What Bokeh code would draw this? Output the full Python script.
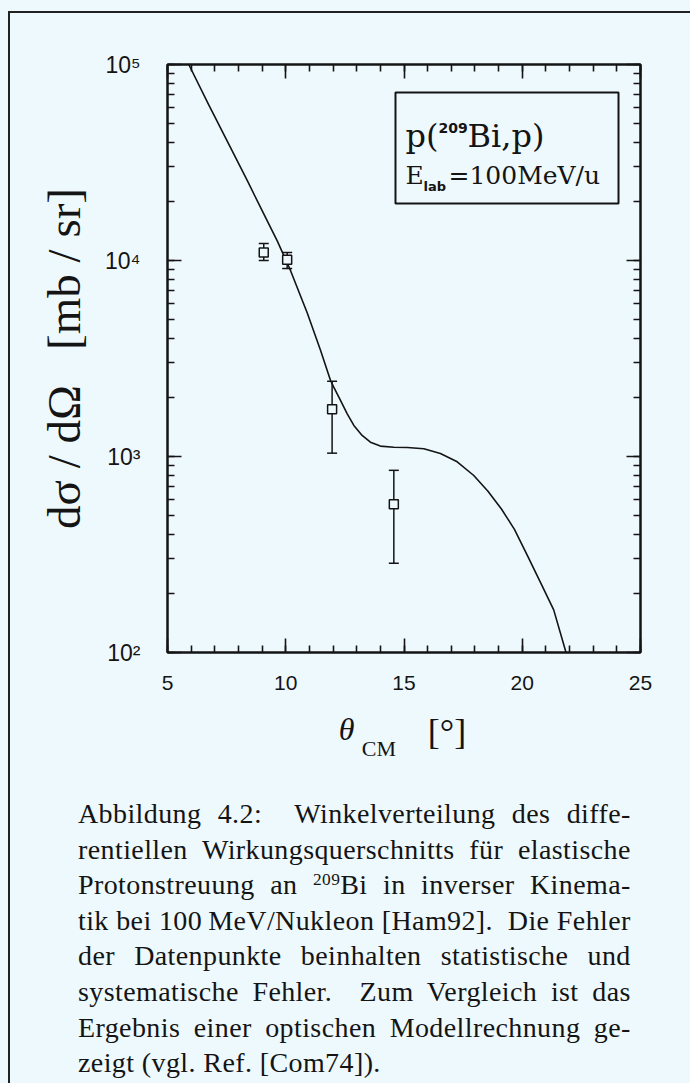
from bokeh.plotting import figure
from bokeh.models import (Label, BoxAnnotation, LinearAxis, LogAxis,
                          SingleIntervalTicker, LogTicker, FixedTicker, Div)
from bokeh.layouts import column
from bokeh.embed import file_html
from bokeh.resources import INLINE

BG = "#eef9fd"
INK = "#141414"

# ---------------- data ----------------
x_ticks = [5, 10, 15, 20, 25]
y_ticks = [1e2, 1e3, 1e4, 1e5]
y_tick_labels = ["10²", "10³", "10⁴", "10⁵"]

theta_data = [9.07, 10.06, 11.96, 14.57]
sigma_data = [11000, 10100, 1740, 570]
sigma_hi = [12200, 11000, 2420, 850]
sigma_lo = [10000, 9100, 1040, 285]

theta_model = [5.90, 6.75, 7.66, 8.37, 9.07, 9.64, 10.20, 10.91, 11.47, 11.89,
               12.03, 12.32, 12.60, 12.88, 13.23, 13.58, 14.00, 14.57, 15.14,
               15.84, 16.54, 17.25, 17.95, 18.55, 19.12, 19.67, 20.23, 20.79,
               21.33, 21.83, 21.95]
sigma_model = [100000, 62000, 37800, 25600, 17300, 12600, 8900, 5400, 3480, 2450,
               2260, 1930, 1650, 1440, 1280, 1183, 1130, 1115, 1112,
               1095, 1035, 940, 800, 665, 540, 425, 310, 225,
               165, 102, 95]

x_title_main = {12.57: "θ"}
x_title_unit = {16.82: "[°]"}
x_title_sub = {13.94: "CM"}
y_title = "dσ / dΩ\u2002 [mb / sr]"

caption_lines = [
    "Abbildung 4.2:&nbsp; Winkelverteilung des diffe-",
    "rentiellen Wirkungsquerschnitts für elastische",
    "Protonstreuung an <sup style='font-size:0.62em;vertical-align:0.5em;line-height:0'>209</sup>Bi in inverser Kinema-",
    "tik bei 100&thinsp;MeV/Nukleon [Ham92].&nbsp; Die Fehler",
    "der Datenpunkte beinhalten statistische und",
    "systematische Fehler.&nbsp; Zum Vergleich ist das",
    "Ergebnis einer optischen Modellrechnung ge-",
    "zeigt (vgl. Ref. [Com74]).",
]

X0, X1 = 5, 25
Y0, Y1 = 1e2, 1e5

p = figure(width=680, height=777, x_range=(X0, X1), y_range=(Y0, Y1),
           y_axis_type="log", output_backend="svg", toolbar_location=None,
           min_border_left=157, min_border_right=50, min_border_top=51,
           min_border_bottom=138)
p.background_fill_color = BG
p.border_fill_color = BG
p.outline_line_color = INK
p.outline_line_width = 2
p.grid.visible = False


def style_axis(ax):
    ax.axis_line_color = INK
    ax.axis_line_width = 2
    ax.major_tick_in = 14
    ax.major_tick_out = 0
    ax.minor_tick_in = 7
    ax.minor_tick_out = 0
    ax.major_tick_line_width = 1.6
    ax.minor_tick_line_width = 1.6
    ax.major_tick_line_color = INK
    ax.minor_tick_line_color = INK


# bottom x axis
xa = p.xaxis[0]
xa.ticker = SingleIntervalTicker(interval=5, num_minor_ticks=5)
style_axis(xa)
xa.major_label_text_font = "Liberation Sans"
xa.major_label_text_font_size = "21px"
xa.major_label_text_color = INK
xa.major_label_standoff = 23
xa.major_label_overrides = {t: str(t) for t in x_ticks}

# left y axis
ya = p.yaxis[0]
ya.ticker = LogTicker(num_minor_ticks=10)
style_axis(ya)
ya.major_label_text_font = "Liberation Sans"
ya.major_label_text_font_size = "23px"
ya.major_label_text_color = INK
ya.major_label_standoff = 27
ya.major_label_overrides = {v: t for v, t in zip(y_ticks, y_tick_labels)}
ya.axis_label = y_title
ya.axis_label_text_font = "Liberation Serif"
ya.axis_label_text_font_style = "normal"
ya.axis_label_text_font_size = "47px"
ya.axis_label_text_color = INK
ya.axis_label_standoff = 12

# mirrored axes
top = LinearAxis(ticker=SingleIntervalTicker(interval=5, num_minor_ticks=5))
style_axis(top)
top.major_label_text_font_size = "0px"
top.major_label_text_color = None
top.major_label_standoff = 0
p.add_layout(top, "above")

right = LogAxis(ticker=LogTicker(num_minor_ticks=10))
style_axis(right)
right.major_label_text_font_size = "0px"
right.major_label_text_color = None
right.major_label_standoff = 0
p.add_layout(right, "right")


def title_axis(parts, font_size, style, standoff):
    ax = LinearAxis(ticker=FixedTicker(ticks=list(parts.keys()), minor_ticks=[]),
                    major_label_overrides=dict(parts))
    ax.axis_line_color = None
    ax.major_tick_line_color = None
    ax.minor_tick_line_color = None
    ax.major_tick_in = 0
    ax.major_tick_out = 0
    ax.minor_tick_in = 0
    ax.minor_tick_out = 0
    ax.major_label_text_font = "Liberation Serif"
    ax.major_label_text_font_style = style
    ax.major_label_text_font_size = font_size
    ax.major_label_text_color = INK
    ax.major_label_standoff = standoff
    p.add_layout(ax, "below")


# x axis title: italic theta, upright [deg] on the same row, subscript CM below
title_axis(x_title_main, "32px", "italic", 18)
title_axis(x_title_unit, "36px", "normal", -38)
title_axis(x_title_sub, "22px", "normal", -19)

# model curve
p.line(theta_model, sigma_model, line_color=INK, line_width=1.6,
       line_join="round")

# data with error bars
p.segment(x0=theta_data, y0=sigma_lo, x1=theta_data, y1=sigma_hi,
          line_color=INK, line_width=1.5)
p.scatter(theta_data, sigma_hi, marker="dash", size=10, line_color=INK,
          line_width=1.5)
p.scatter(theta_data, sigma_lo, marker="dash", size=10, line_color=INK,
          line_width=1.5)
p.scatter(theta_data, sigma_data, marker="square", size=9, fill_color=BG,
          line_color=INK, line_width=1.5)

# legend box
BL, BR, BT, BB = 14.64, 24.07, 71900, 19540
p.add_layout(BoxAnnotation(left=BL, right=BR, top=BT, bottom=BB,
                           fill_color=None, fill_alpha=0,
                           line_color=INK, line_alpha=1, line_width=2))


def leg(text, dx, dy, font, size, style="normal"):
    p.add_layout(Label(x=BL, y=BT, text=text, x_offset=dx, y_offset=-dy,
                       text_align="left", text_baseline="alphabetic",
                       text_font=font, text_font_size=size,
                       text_font_style=style, text_color=INK))


leg("p(", 10, 43, "DejaVu Serif", "32px")
leg("209", 43, 35, "DejaVu Sans", "14px", "bold")
leg("Bi,p)", 72, 43, "DejaVu Serif", "32px")
leg("E", 10, 83, "DejaVu Serif", "25px")
leg("lab", 28, 94, "DejaVu Sans", "13px", "bold")
leg("=100MeV/u", 53, 83, "DejaVu Serif", "25px")

# caption
rows = []
for i, line in enumerate(caption_lines):
    last = i == len(caption_lines) - 1
    align = "left" if last else "justify"
    rows.append(
        f"<div style='height:35.6px;line-height:35.6px;text-align:{align};"
        f"text-align-last:{align};'>{line}</div>")
cap_html = ("<div style=\"padding:1px 44px 0 63px;font-family:'Liberation Serif';"
            f"font-size:28px;letter-spacing:0.4px;color:{INK};\">" + "".join(rows) + "</div>")
cap = Div(text=cap_html, width=680, height=293,
          styles={"background-color": BG})

layout = column(p, cap, margin=(11, 0, 0, 8),
                styles={"border-left": "2px solid #222",
                        "border-top": "2px solid #222",
                        "background-color": BG})

html = file_html(layout, INLINE, title="Winkelverteilung")
html = html.replace("</head>",
                    "<style>html,body{margin:0;padding:0;background:" + BG +
                    ";overflow:hidden;}</style></head>", 1)
with open("out.html", "w") as f:
    f.write(html)
